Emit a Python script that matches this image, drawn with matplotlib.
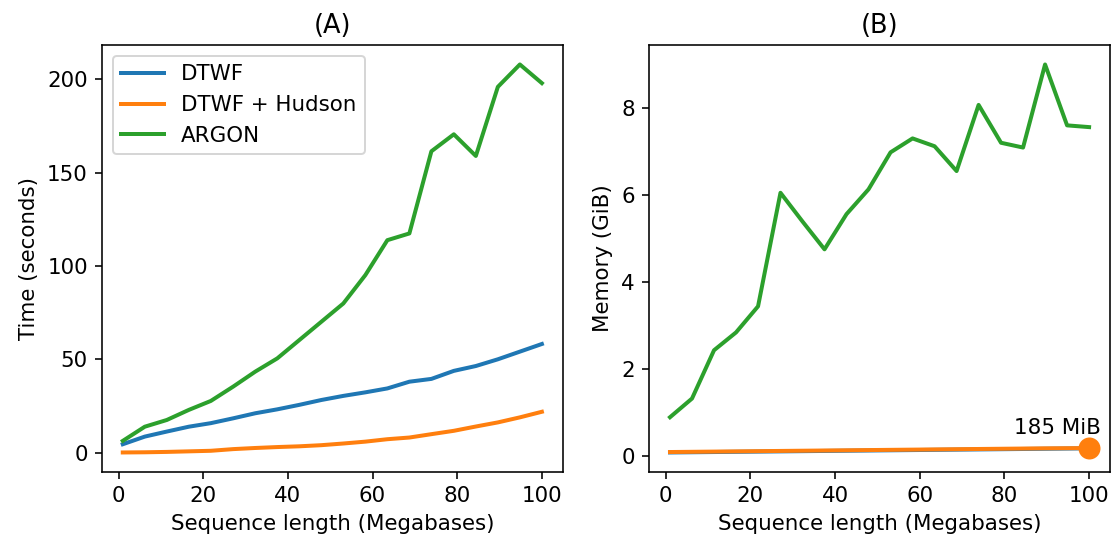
import matplotlib
matplotlib.use('Agg')
import matplotlib.pyplot as plt

# sequence length in megabases
LENGTHS = [1, 6.2, 11.4, 16.6, 21.8, 27.1, 32.3, 37.5, 42.7, 47.9,
           53.1, 58.3, 63.5, 68.7, 73.9, 79.2, 84.4, 89.6, 94.8, 100]

# run time (seconds)
TIME_DTWF = [4.6, 8.7, 11.4, 14.0, 15.9, 18.5, 21.2, 23.3, 25.7, 28.3,
             30.5, 32.4, 34.5, 38.1, 39.6, 43.9, 46.5, 50.1, 54.2, 58.3]
TIME_HUDSON = [0.2, 0.3, 0.5, 0.8, 1.1, 2.0, 2.6, 3.1, 3.5, 4.1,
               5.0, 6.0, 7.3, 8.2, 10.0, 11.8, 14.1, 16.3, 19.0, 22.0]
TIME_ARGON = [6.4, 14.0, 17.6, 23.0, 27.8, 35.5, 43.5, 50.6, 60.4, 70.2,
              80.0, 95.2, 113.9, 117.5, 161.5, 170.6, 159.0, 196.0, 208.0, 198.0]

# peak memory (GiB)
MEM_DTWF = [0.08, 0.085, 0.09, 0.095, 0.10, 0.105, 0.11, 0.115, 0.12, 0.125,
            0.13, 0.135, 0.14, 0.145, 0.15, 0.155, 0.16, 0.165, 0.17, 0.175]
MEM_HUDSON = [0.09, 0.095, 0.10, 0.105, 0.11, 0.115, 0.12, 0.125, 0.13, 0.135,
              0.14, 0.145, 0.15, 0.155, 0.16, 0.165, 0.17, 0.175, 0.178, 0.181]
MEM_ARGON = [0.89, 1.32, 2.43, 2.84, 3.44, 6.05, 5.39, 4.75, 5.56, 6.13,
             6.98, 7.30, 7.12, 6.55, 8.07, 7.20, 7.09, 9.00, 7.60, 7.56]

PEAK_LABEL = '185 MiB'

plt.rcParams['font.size'] = 10.7

DPI = 144
fig, (ax1, ax2) = plt.subplots(1, 2, figsize=(1119 / DPI, 543 / DPI), dpi=DPI)
fig.subplots_adjust(left=0.091, right=0.992, bottom=0.131, top=0.917, wspace=0.187)

ax1.plot(LENGTHS, TIME_DTWF, lw=2, label='DTWF')
ax1.plot(LENGTHS, TIME_HUDSON, lw=2, label='DTWF + Hudson')
ax1.plot(LENGTHS, TIME_ARGON, lw=2, label='ARGON')
ax1.set_title('(A)')
ax1.set_xlabel('Sequence length (Megabases)')
ax1.set_ylabel('Time (seconds)')
ax1.legend(loc='upper left')

ax2.plot(LENGTHS, MEM_DTWF, lw=2)
ax2.plot(LENGTHS, MEM_HUDSON, lw=2)
ax2.plot(LENGTHS, MEM_ARGON, lw=2)
ax2.plot(LENGTHS[-1], MEM_HUDSON[-1], 'o', color='C1', markersize=10)
ax2.annotate(PEAK_LABEL, (LENGTHS[-1], MEM_HUDSON[-1]), xytext=(6, 5),
             textcoords='offset points', ha='right', va='bottom')
ax2.set_title('(B)')
ax2.set_xlabel('Sequence length (Megabases)')
ax2.set_ylabel('Memory (GiB)')

fig.savefig('out.png', dpi=DPI)
